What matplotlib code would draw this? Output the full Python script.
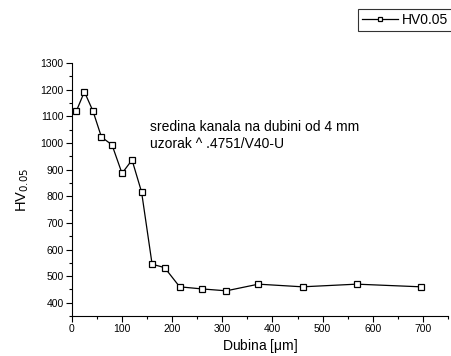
import matplotlib
matplotlib.use("Agg")
import matplotlib.pyplot as plt
from matplotlib.ticker import MultipleLocator

plt.rcParams['font.family'] = ['Liberation Sans', 'DejaVu Sans']

# depth [um] and hardness HV0.05
dubina = [9, 25, 42, 59, 80, 100, 120, 139, 160, 185, 215, 260, 308, 372, 460, 568, 696]
hv = [1120, 1192, 1120, 1022, 993, 886, 936, 816, 545, 532, 460, 452, 445, 470, 460, 470, 460]

fig = plt.figure(figsize=(4.52, 3.56), dpi=100)
ax = fig.add_axes([0.159, 0.112, 0.832, 0.711])

line, = ax.plot(dubina, hv, '-s', color='black', lw=0.9, ms=4.8,
                mfc='white', mec='black', mew=0.9, label='HV0.05')

ax.set_xlim(0, 750)
ax.set_ylim(350, 1300)
ax.xaxis.set_major_locator(MultipleLocator(100))
ax.xaxis.set_minor_locator(MultipleLocator(50))
ax.yaxis.set_major_locator(MultipleLocator(100))
ax.yaxis.set_minor_locator(MultipleLocator(50))
ax.spines['top'].set_visible(False)
ax.spines['right'].set_visible(False)
ax.tick_params(which='major', direction='out', length=4, width=0.8, labelsize=7.5, pad=2)
ax.tick_params(which='minor', direction='out', length=2, width=0.8)

ax.set_xlabel('Dubina [$\\mathregular{\\mu}$m]', fontsize=10, labelpad=2)
ax.set_ylabel('HV$_{0.05}$', fontsize=10.5, labelpad=7)

ax.text(156, 1060, 'sredina kanala na dubini od 4 mm', fontsize=10, va='center')
ax.text(156, 996, 'uzorak ^ .4751/V40-U', fontsize=10, va='center')

leg = fig.legend(handles=[line], loc='upper left', bbox_to_anchor=(358/452, 1 - 9/356),
                 fontsize=10, frameon=True, fancybox=False, edgecolor='black',
                 handlelength=2.55, borderpad=0.3, borderaxespad=0, handletextpad=0.3,
                 markerscale=0.7)
leg.get_frame().set_linewidth(0.8)

fig.savefig('out.png', dpi=100)
